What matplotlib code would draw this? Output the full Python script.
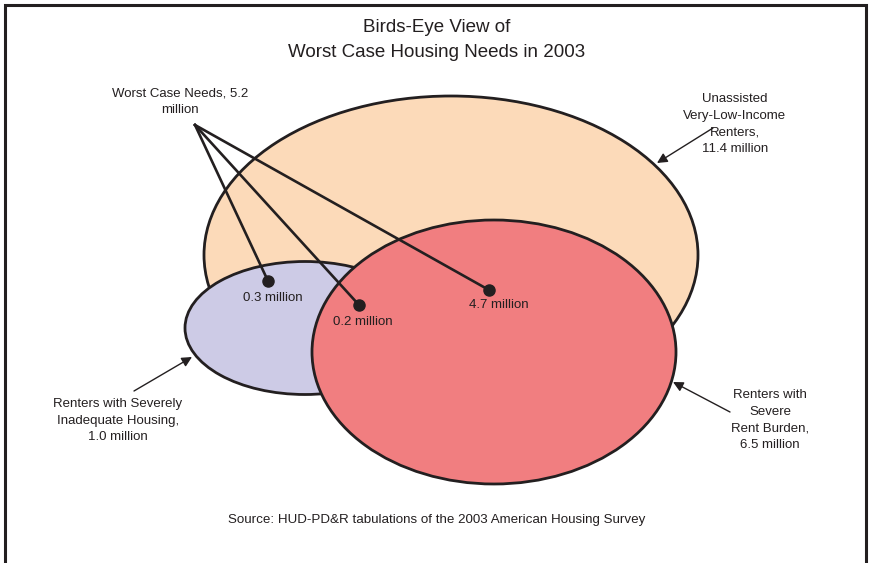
import matplotlib.pyplot as plt
from matplotlib.patches import Ellipse

plt.rcParams['font.family'] = ['Liberation Sans', 'DejaVu Sans']

# data
set_names = ["Unassisted\nVery-Low-Income\nRenters,", "Renters with Severely\nInadequate Housing,",
             "Renters with\nSevere\nRent Burden,"]
set_values = [11.4, 1.0, 6.5]
overlap_values = [0.3, 0.2, 4.7]
worst_case_total = 5.2
title = "Birds-Eye View of\nWorst Case Housing Needs in 2003"
source = "Source: HUD-PD&R tabulations of the 2003 American Housing Survey"

# layout (pixel coords, y down)
ell_centers = [(451, 255), (305, 328), (494, 352)]
ell_sizes = [(494, 318), (240, 133), (364, 264)]
ell_colors = ["#fcdab9", "#cdcbe6", "#f17e80"]
set_label_xy = [(735, 124), (118, 421), (770, 420)]
set_arrow = [((713, 128), (657, 163)), ((134, 391), (192, 357)), ((730, 412), (673, 382))]
dots = [(268, 281), (359, 305), (489, 290)]
dot_label_xy = [(273, 298), (363, 322), (499, 305)]
hub = (195, 125)

fig = plt.figure(figsize=(8.7, 5.63), dpi=100)
ax = fig.add_axes([0, 0, 1, 1])
ax.set_xlim(0, 870)
ax.set_ylim(563, 0)
ax.axis('off')

for (c, (w, h), col) in zip(ell_centers, ell_sizes, ell_colors):
    ax.add_patch(Ellipse(c, w, h, facecolor=col, edgecolor="#231f20", lw=2.0))

for i in range(3):
    ax.text(set_label_xy[i][0], set_label_xy[i][1],
            set_names[i] + "\n" + "%.1f million" % set_values[i],
            ha="center", va="center", fontsize=9.5, color="#231f20", linespacing=1.5)
    ax.annotate("", xy=set_arrow[i][1], xytext=set_arrow[i][0],
                arrowprops=dict(arrowstyle="-|>", color="#231f20", lw=1.0,
                                mutation_scale=15, shrinkA=0, shrinkB=0))

for d, lab_xy, v in zip(dots, dot_label_xy, overlap_values):
    ax.plot([hub[0], d[0]], [hub[1], d[1]], color="#231f20", lw=1.9, zorder=5)
    ax.plot(d[0], d[1], 'o', color="#231f20", ms=8, zorder=6)
    ax.text(lab_xy[0], lab_xy[1], "%.1f million" % v, ha="center", va="center",
            fontsize=9.5, color="#231f20", zorder=6)

ax.text(180, 102, "Worst Case Needs, %.1f\nmillion" % worst_case_total, ha="center",
        va="center", fontsize=9.5, color="#231f20", linespacing=1.5)

ax.text(437, 40, title, ha="center", va="center", fontsize=13.5, color="#231f20",
        linespacing=1.55)
ax.text(437, 520, source, ha="center", va="center", fontsize=9.6, color="#231f20")

# frame, open at the bottom
ax.plot([5, 5, 866, 866], [563, 5, 5, 563], color="#231f20", lw=2.2,
        solid_joinstyle="miter", clip_on=False)

fig.savefig("out.png", dpi=100)
